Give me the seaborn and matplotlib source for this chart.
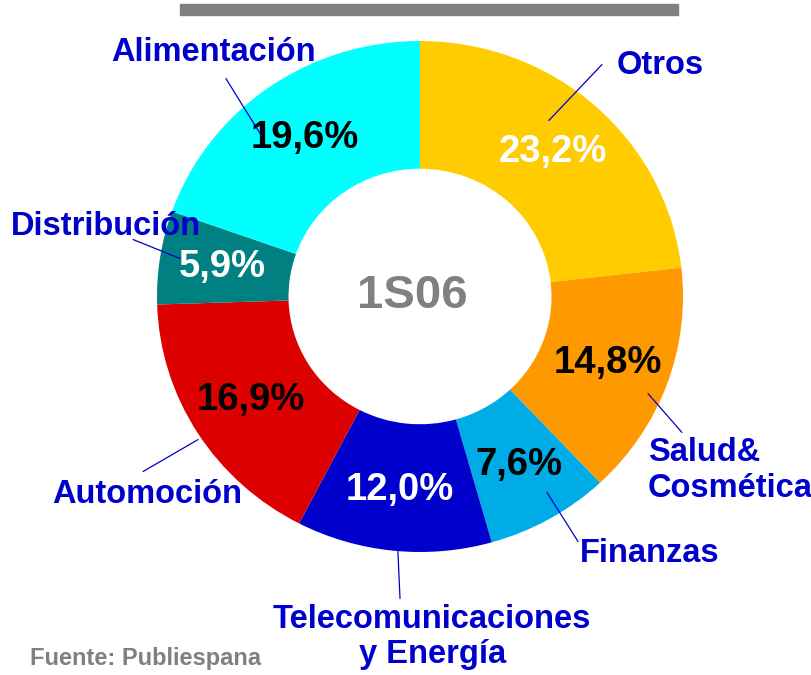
import numpy as np
import matplotlib
matplotlib.use('Agg')
import matplotlib.pyplot as plt
from matplotlib.patches import Rectangle
import seaborn as sns

# Data (share of ad spend by sector, 1S06)
sectors = ['Otros', 'Salud&\nCosmética', 'Finanzas', 'Telecomunicaciones\ny Energía',
           'Automoción', 'Distribución', 'Alimentación']
shares = [23.2, 14.8, 7.6, 12.0, 16.9, 5.9, 19.6]
pct_labels = ['23,2%', '14,8%', '7,6%', '12,0%', '16,9%', '5,9%', '19,6%']
pct_colors = ['white', 'black', 'black', 'white', 'black', 'white', 'black']
slice_colors = ['#FFCC00', '#FF9900', '#00ACE6', '#0000CC', '#DD0000', '#008080', '#00FFFF']
center_label = '1S06'
source_note = 'Fuente: Publiespana'

# label placement: (text x, text y, ha), leader line start -> end (axes data units)
label_layout = {
    'Otros': ((0.913, 0.904, 'center'), (0.692, 0.908), (0.490, 0.689)),
    'Salud&\nCosmética': ((0.867, -0.681, 'left'), (0.867, -0.380), (0.996, -0.532)),
    'Finanzas': ((0.875, -1.006, 'center'), (0.483, -0.767), (0.601, -0.959)),
    'Telecomunicaciones\ny Energía': ((0.046, -1.331, 'center'), (-0.084, -0.998), (-0.076, -1.182)),
    'Automoción': ((-1.038, -0.775, 'center'), (-1.053, -0.685), (-0.844, -0.560)),
    'Distribución': ((-1.194, 0.274, 'center'), (-1.091, 0.223), (-0.913, 0.149)),
    'Alimentación': ((-0.787, 0.955, 'center'), (-0.738, 0.853), (-0.601, 0.626)),
}

sns.set_theme(style='white')
plt.rcParams['font.family'] = ['Liberation Sans', 'DejaVu Sans']
plt.rcParams['font.weight'] = 'bold'

palette = sns.color_palette(slice_colors)
label_blue = '#0000CC'
grey = '#808080'

fig = plt.figure(figsize=(8.12, 6.75), dpi=100)
ax = fig.add_axes([157 / 812, 123 / 675, 526 / 812, 511 / 675])

wedges, _ = ax.pie(shares, colors=palette, startangle=90, counterclock=False,
                   radius=1.0, wedgeprops=dict(width=0.5, linewidth=0))
ax.set_xlim(-1, 1)
ax.set_ylim(-1, 1)
ax.set_aspect('auto')
ax.axis('off')

# percentages in the middle of each ring segment
for w, txt, col in zip(wedges, pct_labels, pct_colors):
    ang = np.deg2rad((w.theta1 + w.theta2) / 2)
    ax.text(0.76 * np.cos(ang), 0.76 * np.sin(ang), txt, ha='center', va='center',
            fontsize=27.5, fontweight='bold', color=col)

# sector names with leader lines
for name in sectors:
    (tx, ty, ha), p0, p1 = label_layout[name]
    ax.annotate('', xy=p1, xytext=p0, annotation_clip=False,
                arrowprops=dict(arrowstyle='-', color=label_blue, lw=0.9,
                                shrinkA=0, shrinkB=0))
    ax.text(tx, ty, name, ha=ha, va='center', multialignment=ha,
            fontsize=23.5, fontweight='bold', color=label_blue, linespacing=1.17,
            clip_on=False)

ax.text(-0.03, 0.0, center_label, ha='center', va='center', fontsize=34,
        fontweight='bold', color=grey)

# grey rule on top and source note
fig.patches.append(Rectangle((180 / 812, 660 / 675), 498 / 812, 11 / 675,
                             transform=fig.transFigure, color=grey, zorder=0))
fig.text(30 / 812, 1 - 659 / 675, source_note, ha='left', va='center',
         fontsize=17, fontweight='bold', color=grey)

fig.savefig('out.png', dpi=100)
plt.close()
